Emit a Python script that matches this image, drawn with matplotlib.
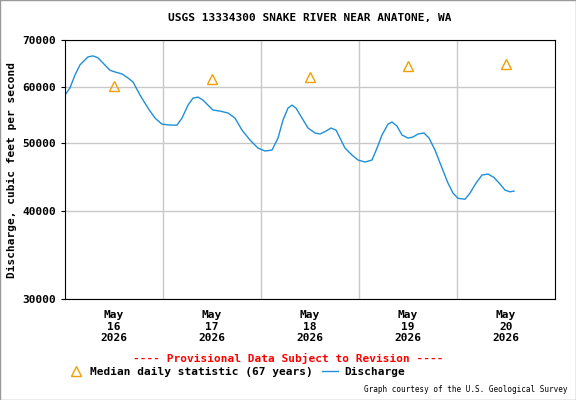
import matplotlib
matplotlib.use("Agg")
import matplotlib.pyplot as plt
from matplotlib.lines import Line2D
import numpy as np

px = [65,70,75,80,88,93,98,103,110,115,122,128,133,140,148,155,162,170,177,182,188,193,198,203,208,213,220,228,235,242,250,258,265,272,278,283,288,292,296,302,308,315,320,326,331,336,340,345,352,358,365,372,377,382,388,392,397,402,408,413,418,424,429,435,442,448,453,458,465,470,476,482,488,494,500,505,510,514]
discharge = [58460,59860,62430,64530,66240,66450,66030,64920,63400,63050,62640,61820,61020,58460,56020,54220,53160,52990,52990,54220,56570,57880,58070,57500,56570,55660,55480,55130,54220,52130,50460,49150,48680,48830,50790,53870,56020,56570,56020,54220,52490,51640,51470,51960,52490,52130,50790,49150,48040,47270,46960,47270,49150,51300,53160,53520,52820,51300,50790,50960,51470,51640,50790,48830,46050,43830,42420,41700,41580,42420,43830,45000,45150,44640,43700,42840,42600,42700]
hours = [(x - 65) * 24 / 98 for x in px]
median_days = [0.5, 1.5, 2.5, 3.5, 4.5]
median_vals = [60300, 61700, 62100, 64300, 64700]
tick_labels = ["May\n16\n2026", "May\n17\n2026", "May\n18\n2026", "May\n19\n2026", "May\n20\n2026"]

plt.rcParams['font.family'] = 'DejaVu Sans Mono'
plt.rcParams['font.weight'] = 'bold'
fig = plt.figure(figsize=(5.76, 4.0), dpi=100)
ax = fig.add_axes([65/576, 1-299/400, 490/576, 259/400])
ax.plot(np.array(hours)/24, discharge, color='#1f8fd8', lw=1)
ax.plot(median_days, median_vals, linestyle='none', marker='^', ms=7, mfc='none', mec='#f0a000', mew=1)
ax.set_yscale('log')
ax.set_ylim(30000, 70000)
ax.set_xlim(0, 5)
yt = [30000, 40000, 50000, 60000, 70000]
ax.set_yticks(yt)
ax.set_yticklabels([str(v) for v in yt], fontsize=8, fontweight='bold')
ax.yaxis.set_minor_locator(matplotlib.ticker.NullLocator())
ax.set_xticks(median_days)
ax.set_xticklabels(tick_labels, fontsize=8, fontweight='bold')
ax.set_xticks([1, 2, 3, 4], minor=True)
ax.tick_params(axis='x', which='major', length=0, pad=8)
ax.tick_params(axis='x', which='minor', length=0)
ax.tick_params(axis='y', length=3)
ax.grid(True, which='minor', axis='x', color='#c8c8c8', lw=1)
ax.grid(True, which='major', axis='y', color='#c8c8c8', lw=1)
ax.set_ylabel("Discharge, cubic feet per second", fontsize=8, fontweight='bold')
ax.set_title("USGS 13334300 SNAKE RIVER NEAR ANATONE, WA", fontsize=8, fontweight='bold', pad=14)
fig.text(0.5, 1-358/400, "---- Provisional Data Subject to Revision ----", color='red',
         ha='center', va='center', fontsize=8, fontweight='bold')
handles = [Line2D([], [], linestyle='none', marker='^', ms=7, mfc='none', mec='#f0a000'),
           Line2D([], [], color='#1f8fd8', lw=1)]
fig.legend(handles, ["Median daily statistic (67 years)", "Discharge"], loc='center',
           bbox_to_anchor=(0.41, 1-372/400), ncol=2, frameon=False, fontsize=8,
           handlelength=1.5, columnspacing=0.8, handletextpad=0.5)
fig.text(0.985, 1-390/400, "Graph courtesy of the U.S. Geological Survey", ha='right',
         va='center', fontsize=5.5, fontweight='normal')
fig.patches.append(matplotlib.patches.Rectangle((0, 0), 1, 1, transform=fig.transFigure,
                   fill=False, edgecolor='#999999', lw=1))
fig.savefig("out.png", dpi=100)
